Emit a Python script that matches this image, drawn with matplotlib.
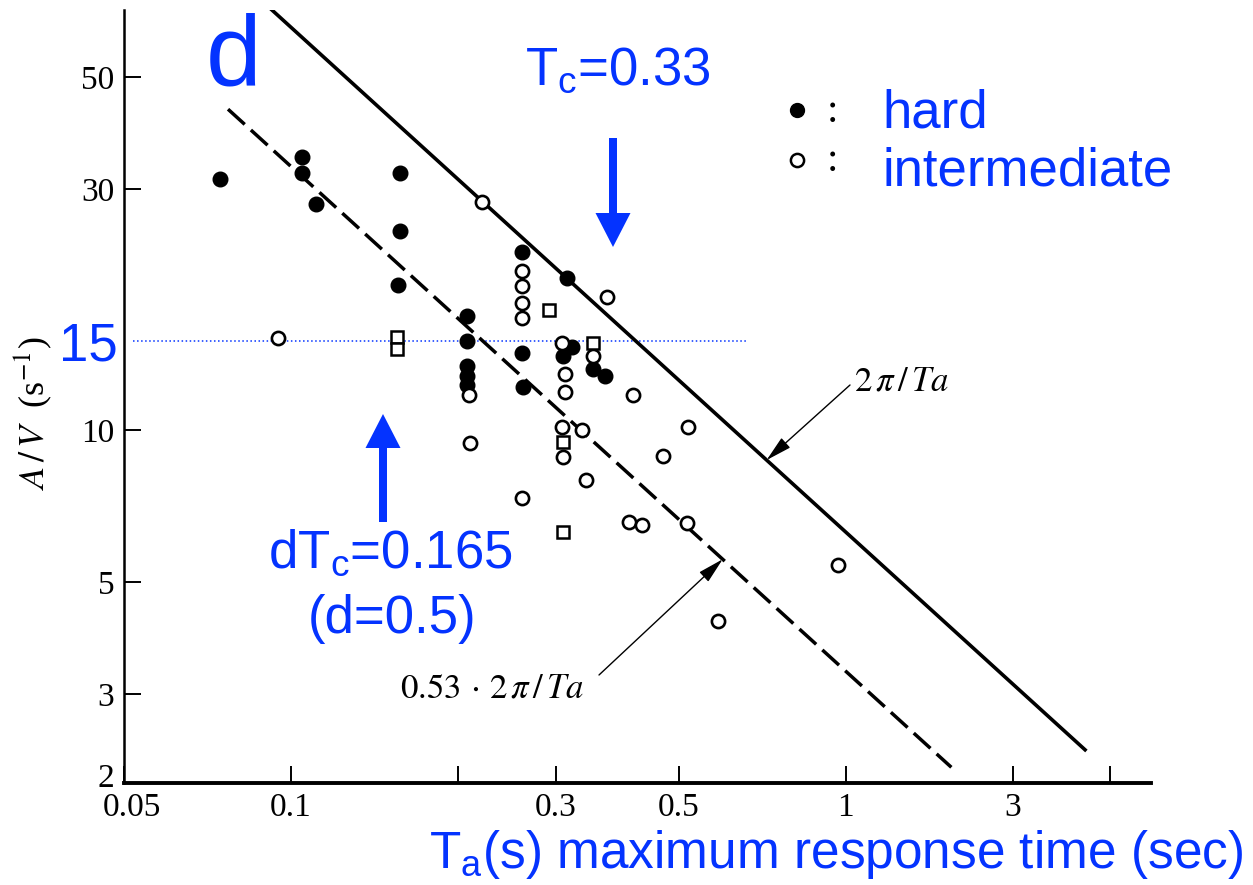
import numpy as np
import matplotlib
matplotlib.use("Agg")
import matplotlib.pyplot as plt
import matplotlib.transforms as mtransforms
from matplotlib.patches import FancyArrow

W, H = 1253, 885
BLUE = "#0433ff"

# hard ground (filled circles): max response time Ta (s) and A/V (1/s)
hard_ta = [0.0745, 0.1047, 0.1047, 0.111, 0.157, 0.157, 0.156,
           0.2075, 0.2075, 0.2075, 0.2075, 0.2075, 0.2607, 0.2607, 0.262,
           0.3144, 0.3208, 0.309, 0.350, 0.368]
hard_av = [31.5, 34.7, 32.4, 28.1, 32.4, 24.8, 19.4,
           16.8, 15.0, 13.4, 12.8, 12.3, 22.5, 14.25, 12.2,
           20.0, 14.6, 14.0, 13.2, 12.8]

# intermediate ground (open circles)
inter_ta = [0.0947, 0.2209, 0.2607, 0.2607, 0.2607, 0.2607, 0.371,
            0.3077, 0.3117, 0.3117, 0.350, 0.209, 0.413, 0.3077, 0.3344,
            0.309, 0.210, 0.519, 0.468, 0.340, 0.2607, 0.4064, 0.429,
            0.517, 0.967, 0.588]
inter_av = [15.25, 28.3, 20.7, 19.3, 17.9, 16.7, 18.4,
            14.9, 12.9, 11.9, 14.0, 11.76, 11.76, 10.16, 10.0,
            8.86, 9.45, 10.16, 8.9, 7.98, 7.35, 6.59, 6.5,
            6.55, 5.41, 4.19]

# unlabelled open squares
sq_ta = [0.155, 0.155, 0.2917, 0.350, 0.309, 0.309]
sq_av = [15.3, 14.5, 17.3, 14.9, 9.49, 6.29]

x_ticks = [0.05, 0.1, 0.2, 0.3, 0.5, 1, 2, 3]
x_ticklabels = ["0.05", "0.1", "", "0.3", "0.5", "1", "3", ""]
y_ticks = [2, 3, 5, 10, 30, 50]

TWO_PI = 2 * np.pi
DASH_FACTOR = 0.53
solid_ta = np.array([0.08, 2.7])
dashed_ta = np.array([0.077, 1.55])
level_av = 15
level_ta = [0.052, 0.66]

plt.rcParams["mathtext.fontset"] = "custom"
plt.rcParams["mathtext.rm"] = "Liberation Sans"
plt.rcParams["mathtext.it"] = "Liberation Sans:italic"


def fp(x, y):
    """pixel position (from top-left) -> figure fraction"""
    return x / W, 1 - y / H


fig = plt.figure(figsize=(W / 100, H / 100), dpi=100)
ax = fig.add_axes([124 / W, 1 - 783 / H, (1151 - 124) / W, (783 - 10) / H])
ax.set_xscale("log")
ax.set_yscale("log")
ax.set_xlim(0.05, 3.55)
ax.set_ylim(2, 68)

ax.plot(solid_ta, TWO_PI / solid_ta, color="black", lw=2.6, zorder=2)
ax.plot(dashed_ta, DASH_FACTOR * TWO_PI / dashed_ta, color="black", lw=2.5,
        dashes=(6.5, 2.4), zorder=2)

ax.plot(hard_ta, hard_av, "o", ms=10.5, color="black", zorder=3)
ax.plot(inter_ta, inter_av, "o", ms=9.5, mfc="white", mec="black", mew=1.9, zorder=3)
ax.plot(sq_ta, sq_av, "s", ms=8, mfc="white", mec="black", mew=1.8, zorder=3)

ax.plot(level_ta, [level_av, level_av], ls=":", lw=1.1, color=BLUE, zorder=1)

for s in ("top", "right"):
    ax.spines[s].set_visible(False)
ax.spines["left"].set_linewidth(1.8)
ax.spines["bottom"].set_linewidth(2.8)

ax.set_xticks(x_ticks)
ax.set_xticklabels(x_ticklabels)
ax.set_yticks(y_ticks)
ax.set_yticklabels([str(v) for v in y_ticks])
ax.minorticks_off()
ax.tick_params(direction="in", length=12, width=1.4, labelsize=24)
ax.tick_params(axis="x", pad=7)
ax.tick_params(axis="y", pad=7)
for lab in ax.get_xticklabels() + ax.get_yticklabels():
    lab.set_family("Liberation Serif")

# nudge the corner labels apart
ylabs = ax.get_yticklabels()
ylabs[0].set_transform(ylabs[0].get_transform() +
                       mtransforms.ScaledTranslation(0, 8 / 100, fig.dpi_scale_trans))
xlabs = ax.get_xticklabels()
xlabs[0].set_transform(xlabs[0].get_transform() +
                       mtransforms.ScaledTranslation(8 / 100, 0, fig.dpi_scale_trans))

fig.text(*fp(33, 413), r"$A\,/\,V$  (s$^{-1}$)", rotation=90, fontsize=26,
         family="Liberation Serif", math_fontfamily="stix", ha="center", va="center")

# reference line labels
arrow_kw = dict(arrowstyle="-|>,head_length=0.8,head_width=0.2", lw=1,
                color="black", mutation_scale=20, shrinkA=0, shrinkB=0)
fig.text(*fp(901, 380), r"$2\,\pi\,/\,Ta$", fontsize=25, math_fontfamily="stix",
         ha="center", va="center")
ax.annotate("", xy=(0.72, TWO_PI / 0.72), xycoords="data",
            xytext=fp(850, 385), textcoords="figure fraction", arrowprops=arrow_kw)
fig.text(*fp(492, 688), r"$0.53\,\cdot\,2\,\pi\,/\,Ta$", fontsize=25,
         math_fontfamily="stix", ha="center", va="center")
ax.annotate("", xy=(0.6, DASH_FACTOR * TWO_PI / 0.6), xycoords="data",
            xytext=fp(599, 675), textcoords="figure fraction", arrowprops=arrow_kw)

# legend
fig.lines.append(plt.Line2D([797 / W], [1 - 110 / H], marker="o", ms=10,
                            color="black", ls="", transform=fig.transFigure))
fig.lines.append(plt.Line2D([797 / W], [1 - 160 / H], marker="o", ms=9.5,
                            mfc="white", mec="black", mew=1.8, ls="",
                            transform=fig.transFigure))
for yy in (122, 171):
    fig.text(*fp(832, yy), ":", fontsize=30, family="Liberation Serif",
             ha="center", va="baseline")
blue = dict(color=BLUE, family="Liberation Sans")
fig.text(*fp(882, 127), "hard", fontsize=38, ha="left", va="baseline", **blue)
fig.text(*fp(882, 185), "intermediate", fontsize=38, ha="left", va="baseline", **blue)

# blue notes
fig.text(*fp(206, 85), "d", fontsize=72, ha="left", va="baseline", **blue)
fig.text(*fp(525, 85), r"T$_\mathrm{c}$=0.33", fontsize=38, ha="left",
         va="baseline", **blue)
fig.text(*fp(268, 568), r"dT$_\mathrm{c}$=0.165", fontsize=38, ha="left",
         va="baseline", **blue)
fig.text(*fp(392, 633), "(d=0.5)", fontsize=38, ha="center", va="baseline", **blue)
ax.annotate("15", xy=(88 / W, level_av), xycoords=("figure fraction", "data"),
            xytext=(0, -14), textcoords="offset points", fontsize=38,
            ha="center", va="baseline", annotation_clip=False, **blue)
fig.text(*fp(1243, 868), r"T$_\mathrm{a}$(s) maximum response time (sec)",
         fontsize=37, ha="right", va="baseline", **blue)

fig.add_artist(FancyArrow(613 / W, 1 - 138 / H, 0, -(247 - 138) / H,
                          width=8 / W, head_width=35 / W, head_length=34 / H,
                          length_includes_head=True, color=BLUE, lw=0,
                          transform=fig.transFigure))
fig.add_artist(FancyArrow(383 / W, 1 - 522 / H, 0, (522 - 414) / H,
                          width=8 / W, head_width=35 / W, head_length=34 / H,
                          length_includes_head=True, color=BLUE, lw=0,
                          transform=fig.transFigure))

fig.savefig("out.png", dpi=100)
